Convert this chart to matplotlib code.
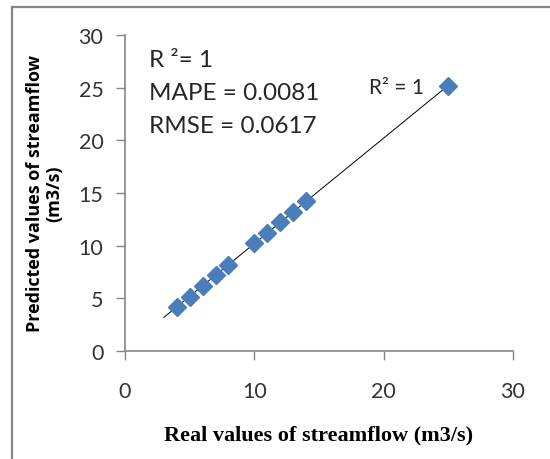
import numpy as np
import matplotlib.pyplot as plt
from matplotlib.lines import Line2D

# observed vs predicted streamflow (m3/s)
real = [4, 5, 6, 7, 8, 10, 11, 12, 13, 14, 25]
pred = [4.2, 5.1, 6.2, 7.2, 8.2, 10.3, 11.2, 12.2, 13.2, 14.2, 25.2]
ticks = [0, 5, 10, 15, 20, 25, 30]
xticks = [0, 10, 20, 30]
stats = ["R \u00b2= 1", "MAPE = 0.0081", "RMSE = 0.0617"]

W, H = 550, 460
fig = plt.figure(figsize=(W / 100, H / 100), dpi=100)
ax = fig.add_axes([125 / W, 1 - 352 / H, (513 - 125) / W, (352 - 36) / H])

blue = '#4A7EBB'
gray = '#868686'

# trendline from least squares, drawn from x=3 to the last point
a, b = np.polyfit(real, pred, 1)
xt = np.array([3, max(real)])
ax.plot(xt, a * xt + b, color='black', lw=0.7, zorder=2)
ax.plot(real, pred, ls='none', marker='D', ms=9.0, color=blue,
        mec=blue, zorder=3)

ax.set_xlim(0, 30)
ax.set_ylim(0, 30)
ax.set_xticks(xticks)
ax.set_yticks(ticks)
for s in ['top', 'right']:
    ax.spines[s].set_visible(False)
for s in ['left', 'bottom']:
    ax.spines[s].set_color(gray)
    ax.spines[s].set_linewidth(1.2)
ax.tick_params(direction='out', length=6.5, width=1.0, color=gray,
               labelsize=15.5, labelcolor='#333333')
ax.tick_params(axis='x', pad=15)
ax.tick_params(axis='y', pad=9)
for lab in ax.get_xticklabels() + ax.get_yticklabels():
    lab.set_family('Lato')

ax.set_ylabel("Predicted values of streamflow\n(m3/s)", family='Open Sans',
              fontweight='bold', fontsize=13, linespacing=1.1, labelpad=11)
ax.set_xlabel("Real values of streamflow (m3/s)", family='Liberation Serif',
              fontweight='bold', fontsize=16, labelpad=17)

ys = [27.05, 23.9, 20.8]
for t, yv in zip(stats, ys):
    ax.text(1.85, yv, t, family='Lato', fontsize=17.5, color='#262626',
            va='baseline', ha='left')
ax.text(18.9, 24.5, "R\u00b2 = 1", family='Lato', fontsize=15,
        color='#262626', va='baseline', ha='left')

# outer frame (top and left edges only visible)
fig.add_artist(Line2D([12 / W, 1], [1 - 8 / H, 1 - 8 / H], color=gray,
                      lw=1.6, transform=fig.transFigure))
fig.add_artist(Line2D([12 / W, 12 / W], [0, 1 - 8 / H], color=gray,
                      lw=1.6, transform=fig.transFigure))

fig.savefig('out.png', dpi=100)
